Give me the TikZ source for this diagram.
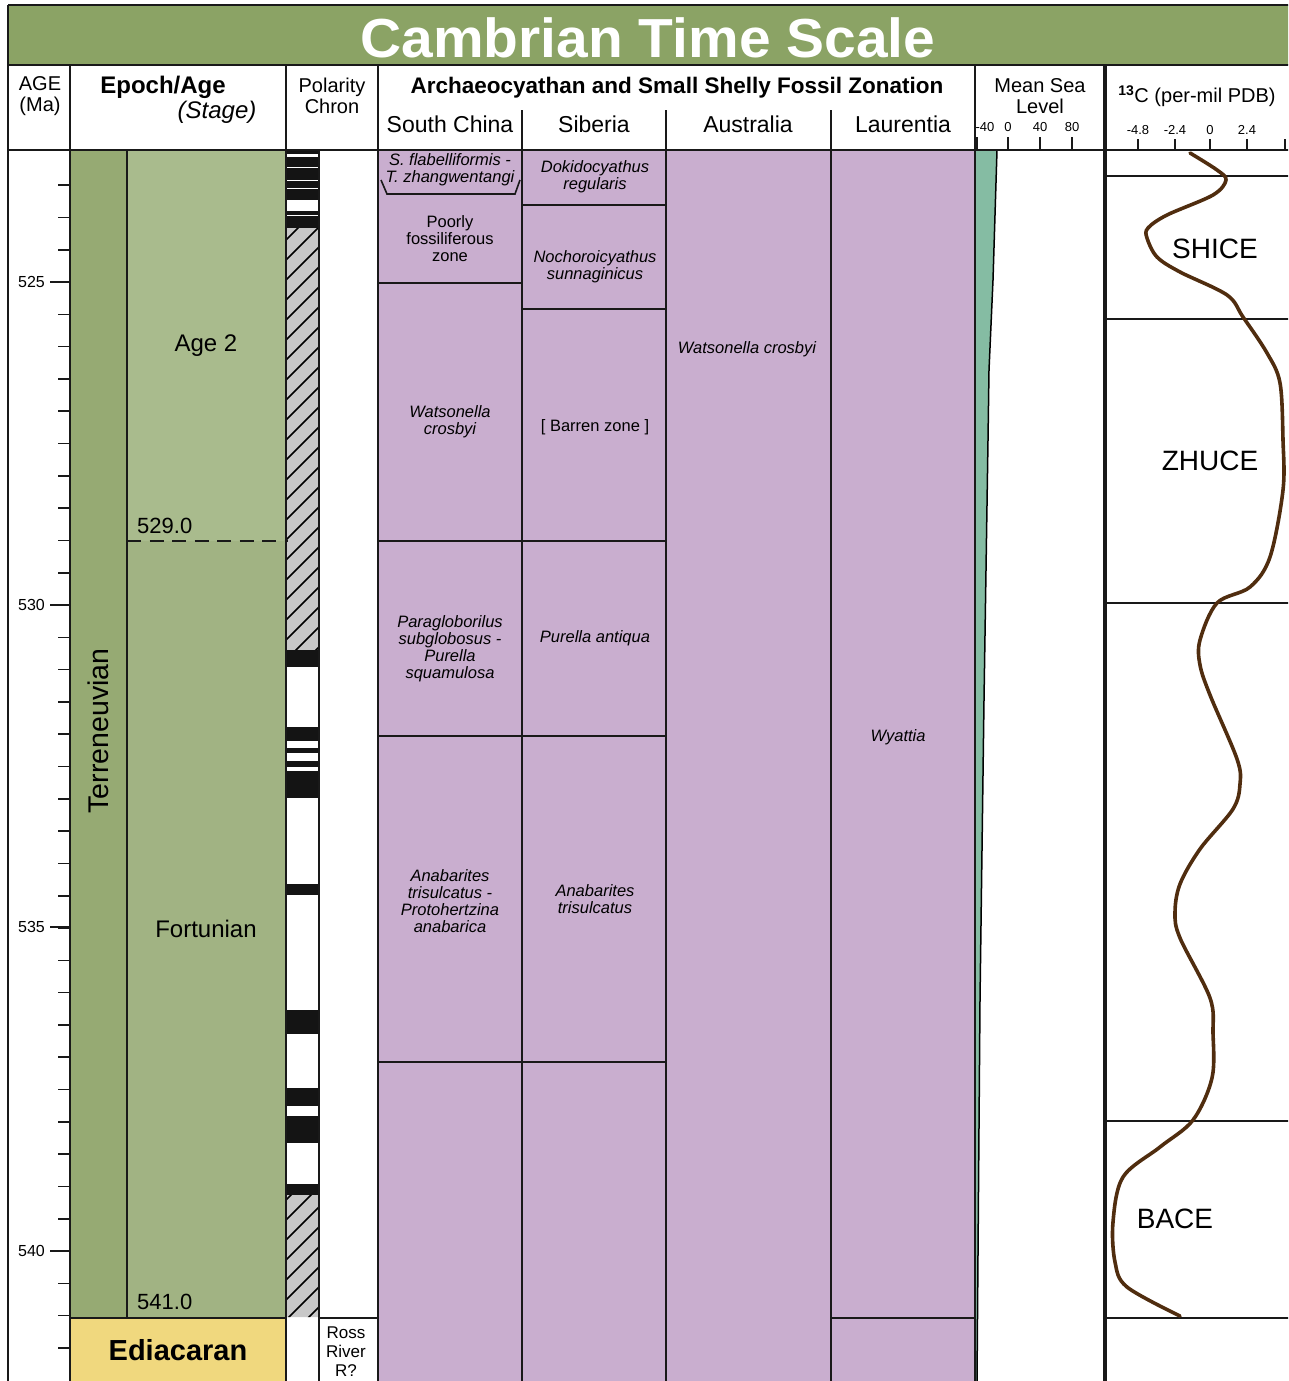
\documentclass[tikz,border=0pt]{standalone}
\usepackage{fontspec}
\setmainfont{Liberation Sans}
\definecolor{TitleGreen}{RGB}{139,163,101}
\definecolor{EpochGreen}{RGB}{150,170,115}
\definecolor{FortuGreen}{RGB}{161,179,131}
\definecolor{AgeTwoGreen}{RGB}{169,187,141}
\definecolor{EdiaYellow}{RGB}{240,216,126}
\definecolor{ZonePurple}{RGB}{201,174,207}
\definecolor{SeaGreen}{RGB}{133,188,163}
\definecolor{IsoBrown}{RGB}{80,45,15}
\definecolor{HatchGrey}{RGB}{200,200,200}
\def\fs#1{\fontsize{#1}{#1}\selectfont}

\begin{document}
\begin{tikzpicture}[x=1pt,y=-1pt, frame/.style={line width=2.2pt,black!90}, rule/.style={line width=1.6pt,black!90}, lbl/.style={inner sep=0pt,align=center,font=\fontsize{20}{21}\selectfont}, zone/.style={inner sep=0pt,align=center,font=\fontsize{16.5}{17}\selectfont\itshape}]
\useasboundingbox (0,0) rectangle (1288,1381);
\clip (0,0) rectangle (1288,1381);

% title band
\fill[TitleGreen] (8,5) rectangle (1300,65);
\node[inner sep=0pt,text=white,font=\bfseries\fs{55}] (title) at (648,38) {\scalebox{1.035}[1]{Cambrian Time Scale}};

% column fills
\fill[EpochGreen] (70,150) rectangle (127,1318);
\fill[AgeTwoGreen] (127,150) rectangle (286,541);
\fill[FortuGreen] (127,541) rectangle (286,1318);
\fill[EdiaYellow] (70,1318) rectangle (286,1381);
\fill[ZonePurple] (378,150) rectangle (975,1381);
\fill[SeaGreen] (976,150) -- (997,150) -- (993,280) -- (989,370) -- (988,440) -- (984,700) -- (980,1000) -- (977,1381) -- (976,1381) -- cycle;
\draw[line width=1.5pt] (997,150) -- (993,280) -- (989,370) -- (988,440) -- (984,700) -- (980,1000) -- (977,1381);

% polarity bar: hatched parts
\begin{scope}
  \clip (287,228) rectangle (318,650) (287,1195) rectangle (318,1317);
  \fill[HatchGrey] (286,200) rectangle (319,1330);
  \foreach \k in {140,160,...,1400} \draw[line width=1.6pt] (286,\k) -- ++(33,-33);
\end{scope}
% polarity bar: normal (black) parts
\foreach \a/\b in {150/154, 157/167, 168/180, 181/188, 189/200, 211/215, 216/228, 650/667, 727/741, 748/753, 761/767, 771/798, 884/895, 1010/1034, 1088/1106, 1116/1143, 1184/1195}
  \fill[black!92] (287,\a) rectangle (318,\b);

% header and outer lines
\draw[frame] (8,5) -- (1300,5) (8,65) -- (1300,65) (8,150) -- (1300,150);
\draw[frame] (8,5) -- (8,1381) (70,65) -- (70,1381) (286,65) -- (286,1381) (378,65) -- (378,1381) (975,65) -- (975,1381);
\draw[line width=4pt,black!90] (1105,65) -- (1105,1381);
\draw[frame] (522,110) -- (522,1381) (666,110) -- (666,1381) (831,110) -- (831,1381);
\draw[frame] (127,150) -- (127,1318) (319,150) -- (319,1381);
\draw[frame] (70,1318) -- (286,1318) (319,1318) -- (378,1318) (831,1318) -- (975,1318) (1105,1318) -- (1300,1318);
\draw[rule,dash pattern=on 14pt off 8.5pt] (127,541) -- (288,541);

% zone boundaries
\foreach \y in {283,541,736,1062} \draw[rule] (378,\y) -- (522,\y);
\foreach \y in {205,309,541,736,1062} \draw[rule] (522,\y) -- (666,\y);
\foreach \y in {176,319,603,1121} \draw[rule] (1105,\y) -- (1300,\y);
\draw[rule] (381,180) -- (387,194) -- (515,194) -- (520,180);

% age ticks
\foreach \i in {1,...,37} {
  \pgfmathsetmacro{\ty}{152.8+\i*32.3}
  \draw[rule] (58,\ty) -- (70,\ty);
}
\foreach \a/\y in {525/282,530/605,535/927,540/1251} {
  \draw[rule] (50,\y) -- (70,\y);
  \node[anchor=east,inner sep=0pt,font=\fs{16}] (age\a) at (45,\y) {\a};
}

% header texts
\node[lbl] (agehead) at (40,96) {AGE\\(Ma)};
\node[inner sep=0pt,font=\bfseries\fs{24}] (epochhead) at (163,87) {Epoch/Age};
\node[inner sep=0pt,font=\itshape\fs{24}] (stagehead) at (217,112) {(Stage)};
\node[lbl] (polhead) at (332,96) {Polarity\\Chron};
\node[inner sep=0pt,font=\bfseries\fs{22.5}] (zonehead) at (677,88) {Archaeocyathan and Small Shelly Fossil Zonation};
\node[inner sep=0pt,font=\fs{23}] (schina) at (450,124) {South China};
\node[inner sep=0pt,font=\fs{23}] (siberia) at (594,124) {Siberia};
\node[inner sep=0pt,font=\fs{23}] (australia) at (748,124) {Australia};
\node[inner sep=0pt,font=\fs{23}] (laurentia) at (903,124) {Laurentia};
\node[lbl] (seahead) at (1040,96) {Mean Sea\\Level};
\node[lbl] (isohead) at (1197,96) {\textsuperscript{\bfseries 13}C (per-mil PDB)};

% sea level and isotope axes
\foreach \x/\t in {985/-40,1008/0,1040/40,1072/80} \node[inner sep=0pt,font=\fs{13}] (sea\t) at (\x,127) {\t};
\foreach \x in {977,1008,1040,1072} \draw[rule] (\x,137) -- (\x,150);
\foreach \x/\t in {1138/-4.8,1175/-2.4,1210/0,1247/2.4} \node[inner sep=0pt,font=\fs{13}] (iso\t) at (\x,130) {\t};
\foreach \x in {1138,1175,1210,1247,1285} \draw[rule] (\x,139) -- (\x,150);

% epochs and stages
\node[inner sep=0pt,font=\fs{28.5},rotate=90] (terre) at (98,731) {Terreneuvian};
\node[inner sep=0pt,font=\fs{24}] (agetwo) at (206,346) {Age 2};
\node[inner sep=0pt,font=\fs{24}] (fortu) at (206,929) {Fortunian};
\node[anchor=base west,inner sep=0pt,font=\fs{22}] (bndtop) at (137,533) {529.0};
\node[anchor=base west,inner sep=0pt,font=\fs{22}] (bndbot) at (137,1309) {541.0};
\node[inner sep=0pt,font=\bfseries\fs{29}] (edia) at (178,1350) {Ediacaran};
\node[inner sep=0pt,align=center,font=\fontsize{17}{19}\selectfont] (ross) at (346,1352) {Ross\\River\\R?};

% South China zones
\node[zone] (scone) at (450,170) {S. flabelliformis -\\T. zhangwentangi};
\node[zone,font=\fontsize{16.5}{17}\selectfont] (sctwo) at (450,239) {Poorly\\fossiliferous\\zone};
\node[zone] (scthree) at (450,422) {Watsonella\\crosbyi};
\node[zone] (scfour) at (450,649) {Paragloborilus\\subglobosus -\\Purella\\squamulosa};
\node[zone] (scfive) at (450,901) {Anabarites\\trisulcatus -\\Protohertzina\\anabarica};

% Siberia zones
\node[zone] (sbone) at (595,177) {Dokidocyathus\\regularis};
\node[zone] (sbtwo) at (595,267) {Nochoroicyathus\\sunnaginicus};
\node[zone,font=\fontsize{16.5}{17}\selectfont] (sbthree) at (595,427) {[ Barren zone ]};
\node[zone] (sbfour) at (595,638) {Purella antiqua};
\node[zone] (sbfive) at (595,899) {Anabarites\\trisulcatus};

% Australia and Laurentia
\node[zone] (auone) at (747,349) {Watsonella crosbyi};
\node[zone] (laone) at (898,737) {Wyattia};

% carbon isotope curve and events
\draw[IsoBrown,line width=3.6pt,line cap=round] plot[smooth,tension=0.55] coordinates {(1190,153) (1217,170) (1226,180) (1213,195) (1167,215) (1148,228) (1147,238) (1157,257) (1180,272) (1227,295) (1243,317) (1267,353) (1280,383) (1283,440) (1283,490) (1270,557) (1250,587) (1217,603) (1200,640) (1200,665) (1210,695) (1237,759) (1240,784) (1233,809) (1200,849) (1180,884) (1175,913) (1180,938) (1210,998) (1213,1033) (1212,1078) (1193,1120) (1160,1147) (1123,1177) (1113,1222) (1115,1262) (1127,1287) (1180,1316)};
\node[inner sep=0pt,font=\fs{28}] (shice) at (1215,249) {SHICE};
\node[inner sep=0pt,font=\fs{28}] (zhuce) at (1210,461) {ZHUCE};
\node[inner sep=0pt,font=\fs{28}] (bace) at (1175,1219) {BACE};
\end{tikzpicture}
\end{document}
